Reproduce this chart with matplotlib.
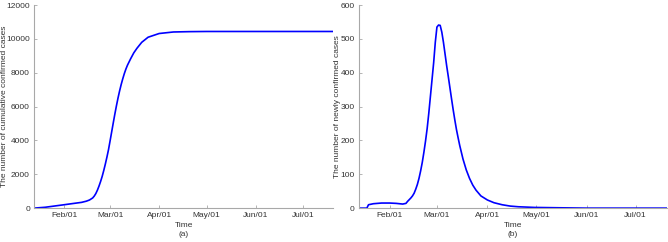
import numpy as np
import pandas as pd
import matplotlib
matplotlib.use('Agg')
import matplotlib.pyplot as plt
import matplotlib.dates as mdates

# cumulative confirmed cases, panel (a)
cum_dates = ['2020-01-13', '2020-01-20', '2020-01-24', '2020-02-01', '2020-02-08',
             '2020-02-12', '2020-02-15', '2020-02-17', '2020-02-19', '2020-02-20',
             '2020-02-21', '2020-02-22', '2020-02-23', '2020-02-24', '2020-02-25',
             '2020-02-26', '2020-02-27', '2020-02-28', '2020-02-29', '2020-03-01',
             '2020-03-02', '2020-03-03', '2020-03-04', '2020-03-05', '2020-03-06',
             '2020-03-07', '2020-03-08', '2020-03-09', '2020-03-10', '2020-03-11',
             '2020-03-12', '2020-03-14', '2020-03-16', '2020-03-18', '2020-03-21',
             '2020-03-25', '2020-04-01', '2020-04-10', '2020-04-20', '2020-05-01',
             '2020-07-20']
cum_values = [0, 50, 100, 200, 290,
              340, 410, 480, 600, 710,
              860, 1060, 1300, 1570, 1870,
              2220, 2600, 3010, 3450, 3970,
              4500, 5030, 5550, 6040, 6500,
              6920, 7300, 7640, 7950, 8220,
              8450, 8830, 9180, 9450, 9800,
              10100, 10320, 10410, 10430, 10440,
              10440]

# newly confirmed cases, panel (b)
new_dates = ['2020-01-13', '2020-01-18', '2020-01-19', '2020-01-22', '2020-01-27',
             '2020-02-01', '2020-02-05', '2020-02-09', '2020-02-11', '2020-02-12',
             '2020-02-13', '2020-02-14', '2020-02-15', '2020-02-16', '2020-02-17',
             '2020-02-18', '2020-02-19', '2020-02-20', '2020-02-21', '2020-02-22',
             '2020-02-23', '2020-02-24', '2020-02-25', '2020-02-26', '2020-02-27',
             '2020-02-28', '2020-02-29', '2020-03-01', '2020-03-02', '2020-03-03',
             '2020-03-04', '2020-03-05', '2020-03-06', '2020-03-07', '2020-03-08',
             '2020-03-09', '2020-03-10', '2020-03-11', '2020-03-12', '2020-03-13',
             '2020-03-14', '2020-03-15', '2020-03-17', '2020-03-19', '2020-03-21',
             '2020-03-23', '2020-03-25', '2020-03-28', '2020-04-01', '2020-04-05',
             '2020-04-10', '2020-04-15', '2020-04-20', '2020-04-30', '2020-05-15',
             '2020-06-01', '2020-07-20']
new_values = [0, 0, 10, 13, 15,
              15, 14, 12, 14, 20,
              25, 30, 36, 44, 56,
              70, 88, 110, 135, 165,
              198, 235, 280, 330, 380,
              430, 490, 535, 541, 540,
              520, 490, 455, 420, 388,
              355, 322, 290, 260, 232,
              208, 185, 145, 113, 88,
              68, 53, 36, 24, 16,
              10, 6, 4, 2, 1,
              0, 0]

xlim = pd.to_datetime(['2020-01-13', '2020-07-20'])
month_ticks = pd.to_datetime(['2020-02-01', '2020-03-01', '2020-04-01',
                              '2020-05-01', '2020-06-01', '2020-07-01'])

plt.rcParams['font.family'] = ['Liberation Sans', 'DejaVu Sans']
plt.rcParams['font.size'] = 6
text_color = '#333333'
axis_color = '#a8a8a8'

fig = plt.figure(figsize=(6.68, 2.42), dpi=100)
ax_a = fig.add_axes([0.051, 0.140, 0.448, 0.839])
ax_b = fig.add_axes([0.537, 0.140, 0.461, 0.839])

panels = [(ax_a, cum_dates, cum_values, (0, 12000), 2000,
           'The number of cumulative confirmed cases', 'Time\n(a)', -0.086),
          (ax_b, new_dates, new_values, (0, 600), 100,
           'The number of newly confirmed cases', 'Time\n(b)', -0.058)]

for ax, dates, values, ylim, step, ylabel, xlabel, ylab_x in panels:
    ax.plot(pd.to_datetime(dates), values, color='#0000ff', lw=1.2)
    ax.set_xlim(xlim)
    ax.set_ylim(ylim)
    ax.set_yticks(np.arange(ylim[0], ylim[1] + 1, step))
    ax.set_xticks(month_ticks)
    ax.xaxis.set_major_formatter(mdates.DateFormatter('%b/%d'))
    for side in ['top', 'right']:
        ax.spines[side].set_visible(False)
    for side in ['left', 'bottom']:
        ax.spines[side].set_color(axis_color)
        ax.spines[side].set_linewidth(0.8)
    ax.tick_params(direction='in', length=2.5, width=0.6, color=axis_color,
                   labelcolor=text_color, labelsize=6, pad=3)
    ax.set_ylabel(ylabel, color=text_color, fontsize=6)
    ax.yaxis.set_label_coords(ylab_x, 0.5)
    ax.set_xlabel(xlabel, color=text_color, fontsize=6, labelpad=2,
                  linespacing=1.4)

fig.savefig('out.png', dpi=100)
